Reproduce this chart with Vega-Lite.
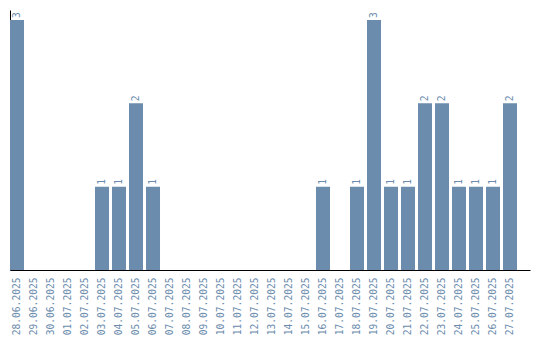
{
  "$schema": "https://vega.github.io/schema/vega-lite/v6.json",
  "width": 520,
  "height": 260,
  "padding": {"left": 10, "top": 10, "right": 10, "bottom": 0},
  "background": "white",
  "data": {"values": [
    {"date": "28.06.2025", "count": 3},
    {"date": "29.06.2025", "count": 0},
    {"date": "30.06.2025", "count": 0},
    {"date": "01.07.2025", "count": 0},
    {"date": "02.07.2025", "count": 0},
    {"date": "03.07.2025", "count": 1},
    {"date": "04.07.2025", "count": 1},
    {"date": "05.07.2025", "count": 2},
    {"date": "06.07.2025", "count": 1},
    {"date": "07.07.2025", "count": 0},
    {"date": "08.07.2025", "count": 0},
    {"date": "09.07.2025", "count": 0},
    {"date": "10.07.2025", "count": 0},
    {"date": "11.07.2025", "count": 0},
    {"date": "12.07.2025", "count": 0},
    {"date": "13.07.2025", "count": 0},
    {"date": "14.07.2025", "count": 0},
    {"date": "15.07.2025", "count": 0},
    {"date": "16.07.2025", "count": 1},
    {"date": "17.07.2025", "count": 0},
    {"date": "18.07.2025", "count": 1},
    {"date": "19.07.2025", "count": 3},
    {"date": "20.07.2025", "count": 1},
    {"date": "21.07.2025", "count": 1},
    {"date": "22.07.2025", "count": 2},
    {"date": "23.07.2025", "count": 2},
    {"date": "24.07.2025", "count": 1},
    {"date": "25.07.2025", "count": 1},
    {"date": "26.07.2025", "count": 1},
    {"date": "27.07.2025", "count": 2}
  ]},
  "encoding": {
    "x": {
      "field": "date", "type": "ordinal", "sort": null,
      "scale": {"paddingInner": 0.176, "paddingOuter": 0.382, "align": 0},
      "axis": {
        "title": null, "labelAngle": 270, "labelAlign": "right", "labelBaseline": "middle",
        "labelFont": "DejaVu Sans Mono", "labelFontSize": 9.6, "labelColor": "#6b8cad",
        "labelPadding": 7, "ticks": false, "domainColor": "black", "domainWidth": 1, "grid": false
      }
    },
    "y": {
      "field": "count", "type": "quantitative",
      "scale": {"domain": [0, 3.12], "nice": false},
      "axis": {"title": null, "labels": false, "ticks": false, "grid": false, "domainColor": "black", "domainWidth": 1}
    }
  },
  "layer": [
    {"mark": {"type": "bar", "color": "#6b8cad"}},
    {
      "transform": [{"filter": "datum.count > 0"}],
      "mark": {"type": "text", "angle": 270, "align": "left", "baseline": "middle", "dx": 2, "font": "DejaVu Sans Mono", "fontSize": 9.6, "color": "#6b8cad"},
      "encoding": {"text": {"field": "count", "type": "quantitative"}}
    }
  ],
  "config": {"view": {"stroke": null}}
}
